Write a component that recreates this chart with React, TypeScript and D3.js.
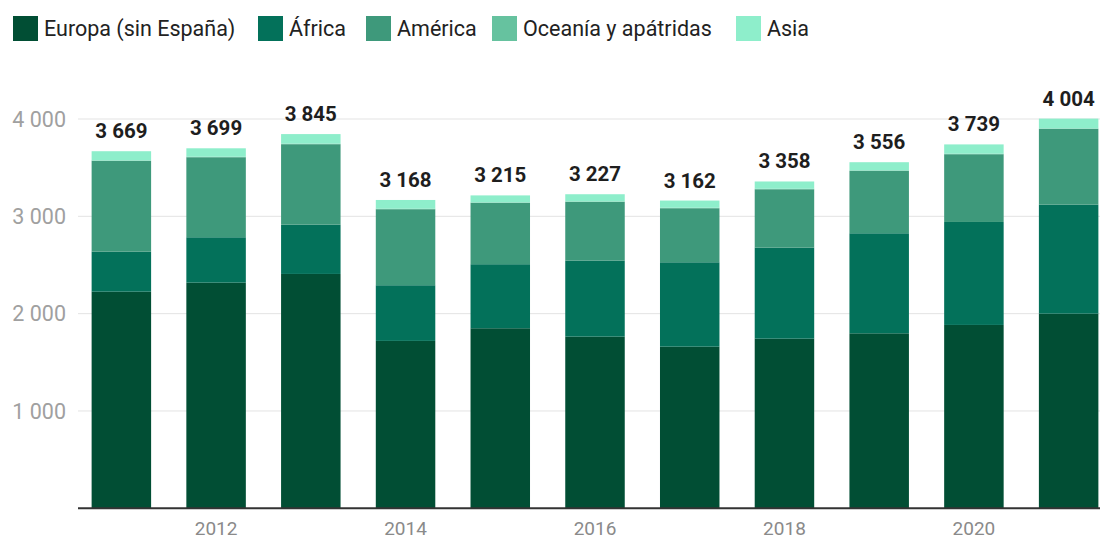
import React from "react";
import * as d3 from "d3";

const years = ["2011","2012","2013","2014","2015","2016","2017","2018","2019","2020","2021"];
const seriesNames = ["Europa (sin España)", "África", "América", "Oceanía y apátridas", "Asia"];
const europa = [2226, 2319, 2408, 1720, 1850, 1764, 1661, 1743, 1798, 1884, 2000];
const africa = [411, 466, 507, 572, 658, 781, 867, 935, 1028, 1058, 1120];
const america = [932, 822, 826, 781, 630, 603, 555, 600, 641, 696, 778];
const oceania = [5, 5, 5, 5, 5, 5, 5, 5, 5, 5, 5];
const asia = [95, 87, 99, 90, 72, 74, 74, 75, 84, 96, 101];
const totals = [3669, 3699, 3845, 3168, 3215, 3227, 3162, 3358, 3556, 3739, 4004];
const yTicks = [1000, 2000, 3000, 4000];
const xTickLabels = ["2012", "2014", "2016", "2018", "2020"];
const colors = ["#014e34", "#03715a", "#3e997b", "#66c29f", "#8eeecb"];

const W = 1100, H = 541;
const FONT = "Roboto, 'Noto Sans', sans-serif";

export default function App() {
  const seriesData = [europa, africa, america, oceania, asia];
  const rows = years.map((y, i) => {
    const r: any = { year: y };
    seriesNames.forEach((s, k) => (r[s] = seriesData[k][i]));
    return r;
  });
  const stacked = d3.stack<any>().keys(seriesNames)(rows);

  const x = d3.scaleBand().domain(years).range([74, 1116]).paddingInner(0.372).paddingOuter(0.186);
  const y = d3.scaleLinear().domain([0, 4000]).range([508.3, 119]);
  const fmt = d3.formatLocale({ decimal: ",", thousands: "\u2009", grouping: [3], currency: ["", "€"] }).format(",d");
  const fmtSp = (v: number) => fmt(v).replace("\u2009", " ");

  const legendX = [13, 258, 366, 492, 736];

  return (
    <svg width={W} height={H} style={{ position: "absolute", left: 0, top: 0, background: "#fff" }} fontFamily={FONT}>
      {/* legend */}
      {seriesNames.map((s, i) => (
        <g key={s} transform={`translate(${legendX[i]},16)`}>
          <rect width={25} height={25} fill={colors[i]} />
          <text x={31} y={20} fontSize={21.5} fill="#222">{s}</text>
        </g>
      ))}
      {/* grid */}
      {yTicks.map((t) => (
        <g key={t}>
          <line x1={78} x2={1100} y1={y(t)} y2={y(t)} stroke="#e3e3e3" strokeWidth={1} />
          <text x={66} y={y(t)} dy="0.35em" textAnchor="end" fontSize={21.5} fill="#a0a0a0">{fmtSp(t)}</text>
        </g>
      ))}
      {/* bars */}
      {stacked.map((layer, k) => (
        <g key={layer.key} fill={colors[k]}>
          {layer.map((d, i) => (
            <rect key={i} x={x(years[i])} width={x.bandwidth()} y={y(d[1])} height={Math.max(0, y(d[0]) - y(d[1]))} />
          ))}
        </g>
      ))}
      {/* totals */}
      {totals.map((t, i) => (
        <text key={i} x={(x(years[i]) as number) + x.bandwidth() / 2} y={y(t) - 13} textAnchor="middle" fontSize={20.5} fontWeight="bold" fill="#1e1e1e">{fmtSp(t)}</text>
      ))}
      {/* baseline */}
      <line x1={78} x2={1100} y1={y(0)} y2={y(0)} stroke="#333" strokeWidth={2} />
      {xTickLabels.map((l) => (
        <text key={l} x={(x(l) as number) + x.bandwidth() / 2} y={535} textAnchor="middle" fontSize={19} fill="#8a8a8a">{l}</text>
      ))}
    </svg>
  );
}
